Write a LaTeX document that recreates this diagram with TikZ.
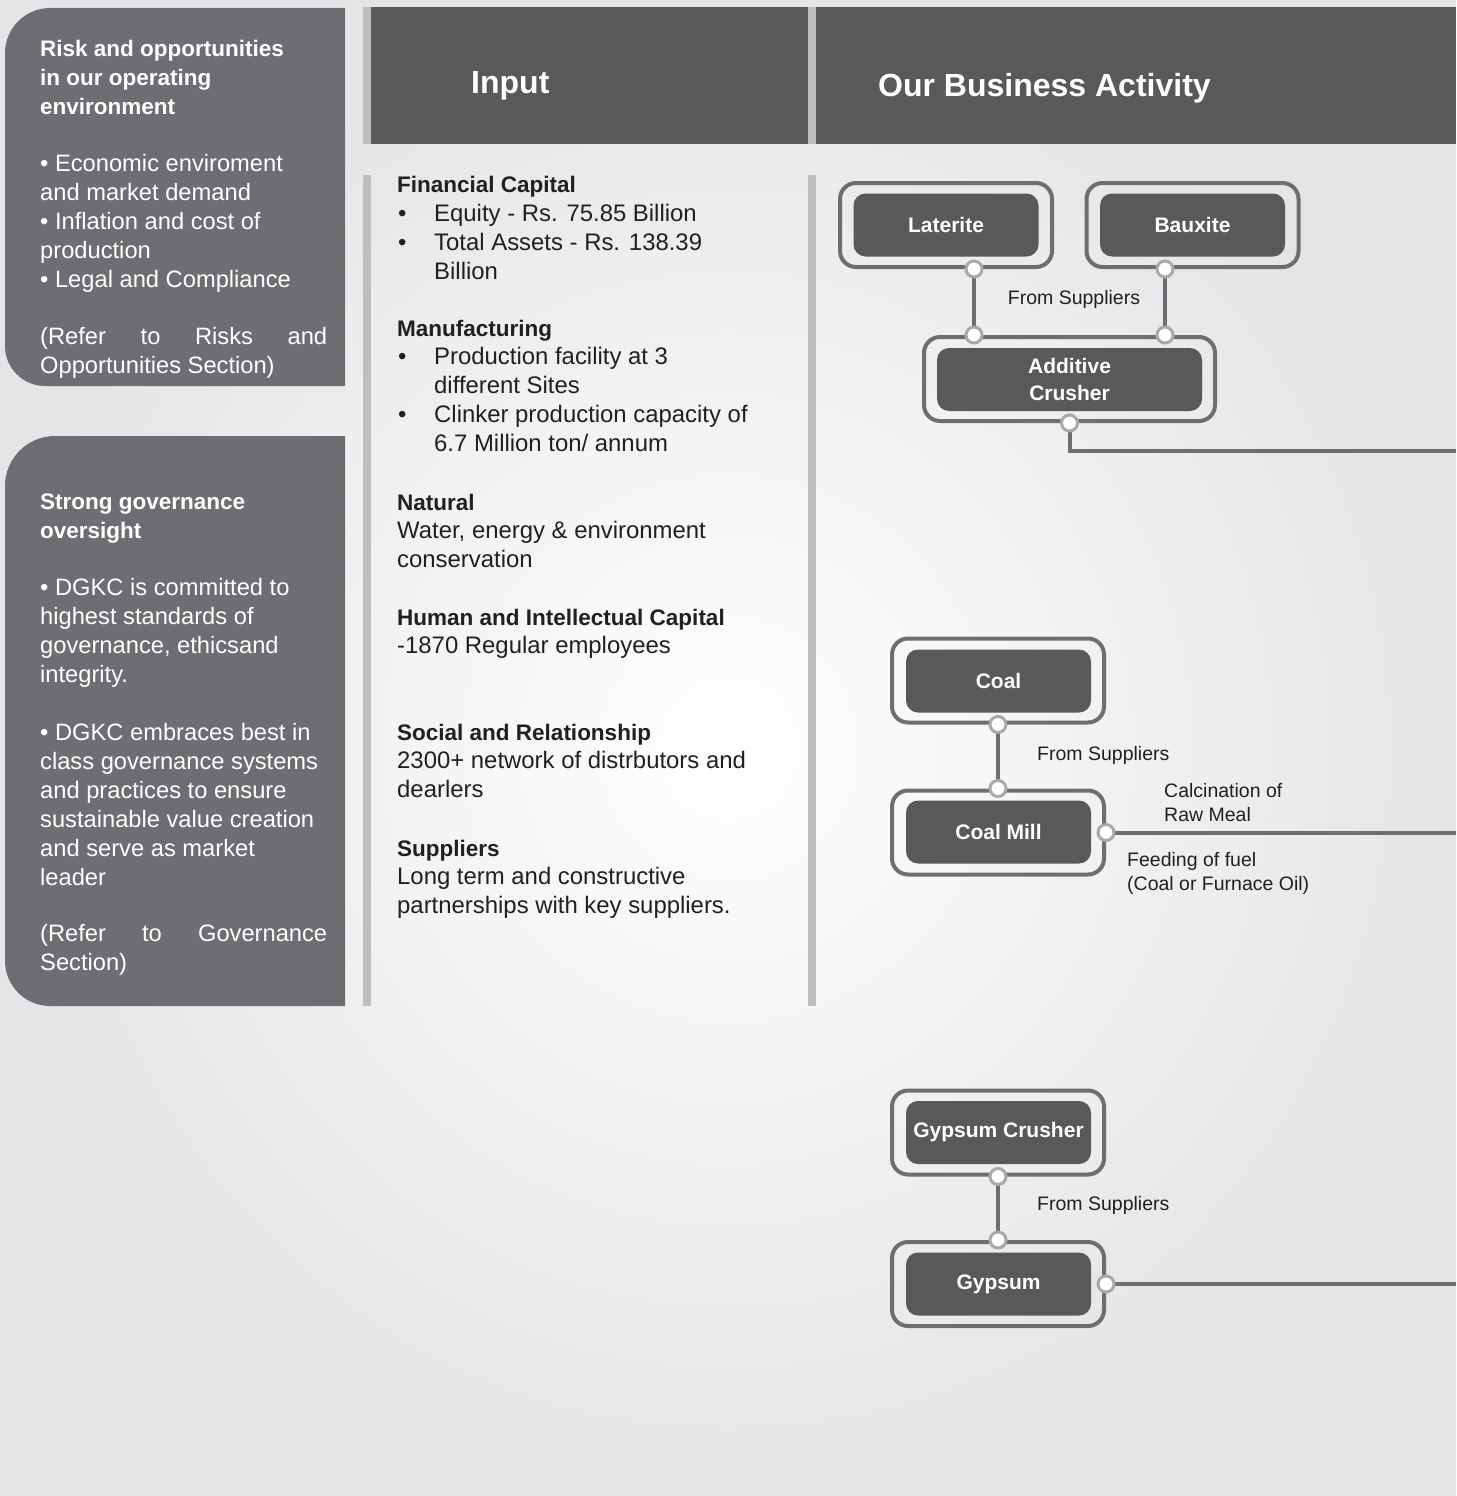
\documentclass[tikz,border=0pt]{standalone}
\usepackage{fontspec}
\setmainfont{Liberation Sans}
\usetikzlibrary{calc}
\definecolor{bgout}{HTML}{E4E5E6}
\definecolor{boxgray}{HTML}{6D6E71}
\definecolor{headgray}{HTML}{58595B}
\definecolor{stripegray}{HTML}{BCBEC0}
\definecolor{dotgray}{HTML}{A7A9AC}
\definecolor{txtdark}{HTML}{231F20}
\newcommand{\myfs}[2]{\fontsize{#1}{#2}\selectfont}
\begin{document}
\begin{tikzpicture}[x=1pt,y=-1pt,
  outerbox/.style={draw=boxgray, line width=4pt, rounded corners=16pt, minimum width=212pt, minimum height=84pt, inner sep=0pt},
  innerbox/.style={fill=headgray, rounded corners=12pt, minimum width=185pt, minimum height=63pt, text=white, font=\bfseries\myfs{21}{27}, align=center, inner sep=0pt},
  conn/.style={draw=boxgray, line width=4pt},
  jdot/.style={circle, draw=dotgray, fill=white, line width=3pt, minimum size=16pt, inner sep=0pt},
  lefttext/.style={anchor=base west, inner sep=0pt, align=left, text=white, font=\myfs{23.7}{29}},
  lefttitle/.style={anchor=base west, inner sep=0pt, align=left, text=white, font=\bfseries\myfs{22.5}{29}},
  intext/.style={anchor=base west, inner sep=0pt, align=left, text=txtdark, font=\myfs{23.9}{28.85}},
  smalllabel/.style={inner sep=0pt, align=left, text=txtdark, font=\myfs{19.5}{24}},
  headtitle/.style={anchor=base west, inner sep=0pt, text=white, font=\bfseries\myfs{32}{38}}
]
\useasboundingbox (0,0) rectangle (1456,1496);
% background
\shade[inner color=white, outer color=bgout] (0,0) rectangle (1456,1496);

% left boxes
\fill[boxgray] (345,8) -- (50,8) .. controls (25.2,8) and (5,28.2) .. (5,53) -- (5,346) .. controls (5,368.1) and (22.9,386) .. (45,386) -- (345,386) -- cycle;
\fill[boxgray] (345,436) -- (55,436) .. controls (27.4,436) and (5,458.4) .. (5,486) -- (5,961) .. controls (5,985.8) and (25.2,1006) .. (50,1006) -- (345,1006) -- cycle;

% (nodes are anchored at the baseline of their LAST line)
\node[lefttitle] (rtitle) at (40,114) {Risk and opportunities\\in our operating\\environment};
\node[lefttext] (rbody) at (40,287) {• Economic enviroment\\and market demand\\• Inflation and cost of\\production\\• Legal and Compliance};
\node[lefttext] (rref) at (40,373) {\makebox[287pt][s]{(Refer to Risks and}\\Opportunities Section)};

\node[lefttitle] (gtitle) at (40,538) {Strong governance\\oversight};
\node[lefttext] (gbody1) at (40,682) {• DGKC is committed to\\highest standards of\\governance, ethicsand\\integrity.};
\node[lefttext] (gbody2) at (40,885) {• DGKC embraces best in\\class governance systems\\and practices to ensure\\sustainable value creation\\and serve as market\\leader};
\node[lefttext] (gref) at (40,970) {\makebox[287pt][s]{(Refer to Governance}\\Section)};

% headers
\fill[stripegray] (363,7) rectangle (371,144);
\fill[headgray] (371,7) rectangle (808,144);
\fill[stripegray] (808,7) rectangle (816,144);
\fill[headgray] (816,7) rectangle (1456,144);
\node[headtitle] (hinput) at (471,93) {Input};
\node[headtitle] (hbiz) at (878,96) {Our Business Activity};

% input column stripes
\fill[stripegray] (363,175) rectangle (371,1006);
\fill[stripegray] (808,175) rectangle (816,1006);

% input texts
\node[intext] (fin) at (397,279.5) {{\bfseries\myfs{22.5}{28.85}Financial Capital}\\
\makebox[37pt][l]{\hspace{1pt}•}Equity - Rs. 75.85 Billion\\
\makebox[37pt][l]{\hspace{1pt}•}Total Assets - Rs. 138.39\\
\hspace*{37pt}Billion};
\node[intext] (man) at (397,451.4) {{\bfseries\myfs{22.5}{28.85}Manufacturing}\\
\makebox[37pt][l]{\hspace{1pt}•}Production facility at 3\\
\hspace*{37pt}different Sites\\
\makebox[37pt][l]{\hspace{1pt}•}Clinker production capacity of\\
\hspace*{37pt}6.7 Million ton/ annum};
\node[intext] (nat) at (397,567.7) {{\bfseries\myfs{22.5}{28.85}Natural}\\Water, energy \& environment\\conservation};
\node[intext] (hum) at (397,653.9) {{\bfseries\myfs{22.5}{28.85}Human and Intellectual Capital}\\-1870 Regular employees};
\node[intext] (soc) at (397,797.7) {{\bfseries\myfs{22.5}{28.85}Social and Relationship}\\2300+ network of distrbutors and\\dearlers};
\node[intext] (sup) at (397,913.7) {{\bfseries\myfs{22.5}{28.85}Suppliers}\\Long term and constructive\\partnerships with key suppliers.};

% business activity nodes
\node[outerbox] (latO) at (946,225) {};
\node[innerbox] (lat) at (946,225) {Laterite};
\node[outerbox] (bauO) at (1192.5,225) {};
\node[innerbox] (bau) at (1192.5,225) {Bauxite};
\node[outerbox, minimum width=291pt] (acO) at (1069.5,379) {};
\node[innerbox, minimum width=265pt] (ac) at (1069.5,379.5) {Additive\\Crusher};

\node[outerbox] (coalO) at (998,680.5) {};
\node[innerbox] (coal) at (998.5,681) {Coal};
\node[outerbox] (cmO) at (998,832.5) {};
\node[innerbox] (cm) at (998.5,832) {Coal Mill};

\node[outerbox] (gcO) at (998,1132.5) {};
\node[innerbox] (gc) at (998.5,1132.5) {Gypsum Crusher};
\node[outerbox] (gyO) at (998,1284) {};
\node[innerbox] (gy) at (998.5,1284) {Gypsum};

% connector coordinates
\coordinate (edgeX) at (1456,0);
\coordinate (latB) at ([xshift=28pt]latO.south);
\coordinate (acT1) at (latB |- acO.north);
\coordinate (bauB) at ([xshift=-27.5pt]bauO.south);
\coordinate (acT2) at (bauB |- acO.north);
\coordinate (acTurn) at ([yshift=-28pt]acO.south);
\coordinate (edge1) at (acTurn -| edgeX);
\coordinate (edge2) at (cmO.east -| edgeX);
\coordinate (edge3) at (gyO.east -| edgeX);

% connectors
\draw[conn] (latB) -- (acT1);
\draw[conn] (bauB) -- (acT2);
\draw[conn] (acO.south) -- (acTurn) -- (edge1);
\draw[conn] (coalO.south) -- (cmO.north);
\draw[conn] (cmO.east) -- (edge2);
\draw[conn] (gcO.south) -- (gyO.north);
\draw[conn] (gyO.east) -- (edge3);

% dots
\node[jdot] (d1) at (latB) {};
\node[jdot] (d2) at (acT1) {};
\node[jdot] (d3) at (bauB) {};
\node[jdot] (d4) at (acT2) {};
\node[jdot] (d5) at (acO.south) {};
\node[jdot] (d6) at (coalO.south) {};
\node[jdot] (d7) at (cmO.north) {};
\node[jdot] (d8) at (cmO.east) {};
\node[jdot] (d9) at (gcO.south) {};
\node[jdot] (d10) at (gyO.north) {};
\node[jdot] (d11) at (gyO.east) {};

% labels
\node[smalllabel] (l1) at (1074,299) {From Suppliers};
\node[smalllabel, anchor=west] (l2) at (1037,755) {From Suppliers};
\node[smalllabel, anchor=west] (l3) at (1164,803) {Calcination of\\Raw Meal};
\node[smalllabel, anchor=west] (l4) at (1127,873) {Feeding of fuel\\(Coal or Furnace Oil)};
\node[smalllabel, anchor=west] (l5) at (1037,1205) {From Suppliers};
\end{tikzpicture}
\end{document}
